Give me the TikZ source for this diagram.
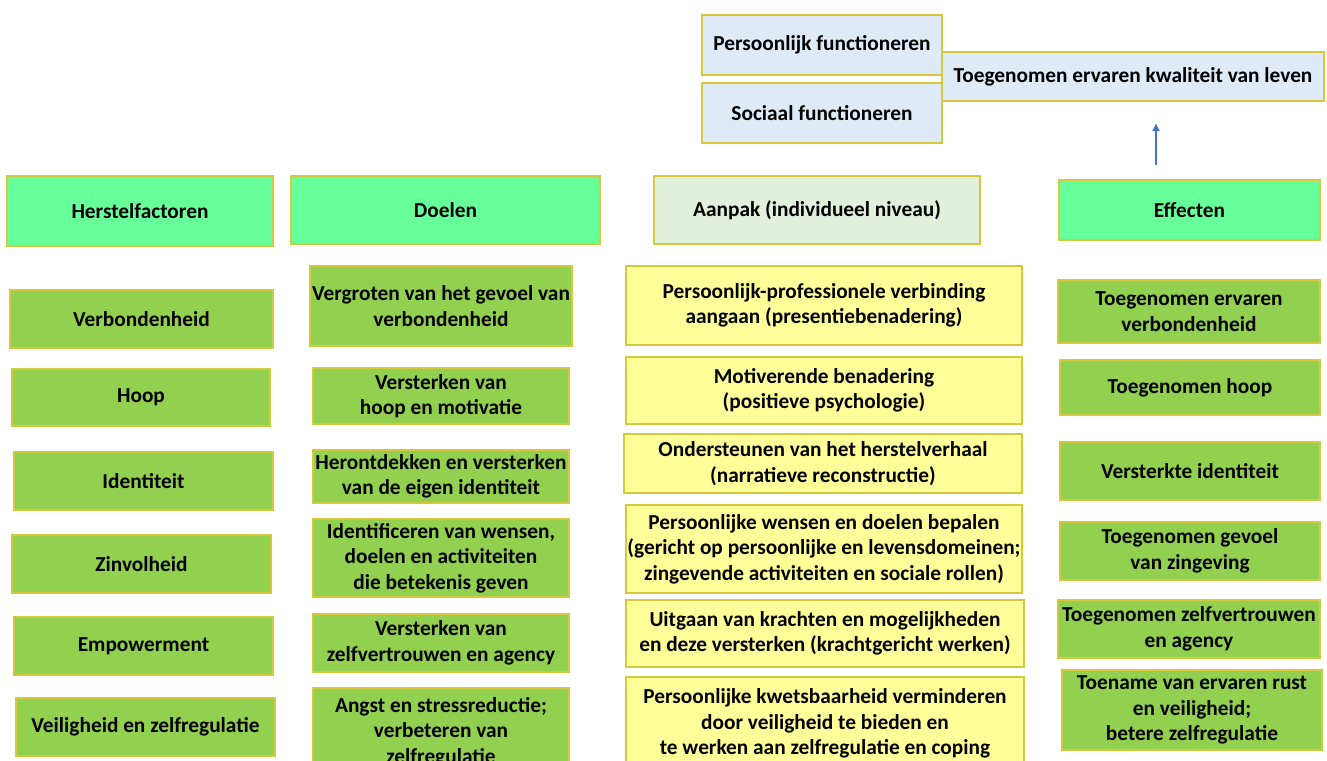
\documentclass[tikz,border=0pt]{standalone}
\usepackage{fontspec}
\usetikzlibrary{arrows.meta}
\setmainfont{Carlito}
\definecolor{hdrgreen}{RGB}{102,255,153}
\definecolor{itgreen}{RGB}{146,208,80}
\definecolor{ylw}{RGB}{255,255,153}
\definecolor{lblue}{RGB}{222,235,247}
\definecolor{lgreen}{RGB}{226,239,218}
\definecolor{bord}{RGB}{212,200,60}
\definecolor{arrblue}{RGB}{68,114,196}
\tikzset{
  box/.style={draw=bord, line width=1.5pt, inner sep=0pt, align=center,
    font=\fontsize{16}{19.2}\selectfont\bfseries, text=black},
  hdr/.style={box, fill=hdrgreen},
  itm/.style={box, fill=itgreen},
  yel/.style={box, fill=ylw},
  blu/.style={box, fill=lblue},
  lgr/.style={box, fill=lgreen},
}
\newcommand\bx[7]{\node[#6, minimum width={(#4-#2)*0.75pt}, minimum height={(#5-#3)*0.75pt}] (#1) at ({(#2+#4)/2},{(#3+#5)/2}) {#7};}
\begin{document}
\begin{tikzpicture}[x=0.75pt,y=-0.75pt]
\useasboundingbox (0,0) rectangle (1327,760);
% top
\bx{pf}{702}{15}{942}{75}{blu}{Persoonlijk functioneren}
\bx{sf}{702}{83}{942}{143}{blu}{Sociaal functioneren}
\bx{kw}{942}{52}{1324}{101}{blu}{Toegenomen ervaren kwaliteit van leven}
\coordinate (arrS) at (1156,165);
\coordinate (arrE) at (1156,123);
\draw[arrblue, line width=1pt, -{Latex[length=6pt,width=6pt]}] (arrS) -- (arrE);
% headers
\bx{h1}{7}{176}{273}{246}{hdr}{Herstelfactoren}
\bx{h2}{291}{176}{600}{244}{hdr}{Doelen}
\bx{h3}{654}{176}{980}{244}{lgr}{Aanpak (individueel niveau)}
\bx{h4}{1059}{180}{1320}{240}{hdr}{Effecten}
% column 1
\bx{a1}{10}{290}{273}{348}{itm}{Verbondenheid}
\bx{a2}{12}{369}{270}{426}{itm}{Hoop}
\bx{a3}{14}{452}{273}{510}{itm}{Identiteit}
\bx{a4}{12}{535}{271}{593}{itm}{Zinvolheid}
\bx{a5}{14}{617}{273}{675}{itm}{Empowerment}
\bx{a6}{16}{698}{275}{756}{itm}{Veiligheid en zelfregulatie}
% column 2
\bx{b1}{310}{266}{572}{346}{itm}{Vergroten van het gevoel van\\verbondenheid}
\bx{b2}{313}{368}{569}{424}{itm}{Versterken van\\hoop en motivatie}
\bx{b3}{313}{450}{569}{503}{itm}{Herontdekken en versterken\\van de eigen identiteit}
\bx{b4}{313}{519}{569}{597}{itm}{Identificeren van wensen,\\doelen en activiteiten\\die betekenis geven}
\bx{b5}{313}{614}{569}{672}{itm}{Versterken van\\zelfvertrouwen en agency}
\bx{b6}{313}{688}{569}{776}{itm}{Angst en stressreductie;\\verbeteren van\\zelfregulatie}
% column 3
\bx{c1}{626}{266}{1022}{345}{yel}{Persoonlijk-professionele verbinding\\aangaan (presentiebenadering)}
\bx{c2}{626}{357}{1022}{424}{yel}{Motiverende benadering\\(positieve psychologie)}
\bx{c3}{624}{434}{1022}{493}{yel}{Ondersteunen van het herstelverhaal\\(narratieve reconstructie)}
\bx{c4}{626}{505}{1022}{593}{yel}{Persoonlijke wensen en doelen bepalen\\(gericht op persoonlijke en levensdomeinen;\\zingevende activiteiten en sociale rollen)}
\bx{c5}{626}{600}{1024}{667}{yel}{Uitgaan van krachten en mogelijkheden\\en deze versterken (krachtgericht werken)}
\bx{c6}{626}{677}{1024}{770}{yel}{Persoonlijke kwetsbaarheid verminderen\\door veiligheid te bieden en\\te werken aan zelfregulatie en coping}
% column 4
\bx{d1}{1058}{280}{1320}{343}{itm}{Toegenomen ervaren\\verbondenheid}
\bx{d2}{1060}{360}{1320}{415}{itm}{Toegenomen hoop}
\bx{d3}{1060}{442}{1320}{500}{itm}{Versterkte identiteit}
\bx{d4}{1060}{522}{1320}{580}{itm}{Toegenomen gevoel\\van zingeving}
\bx{d5}{1058}{600}{1320}{658}{itm}{Toegenomen zelfvertrouwen\\en agency}
\bx{d6}{1062}{670}{1322}{750}{itm}{Toename van ervaren rust\\en veiligheid;\\betere zelfregulatie}
\end{tikzpicture}
\end{document}
